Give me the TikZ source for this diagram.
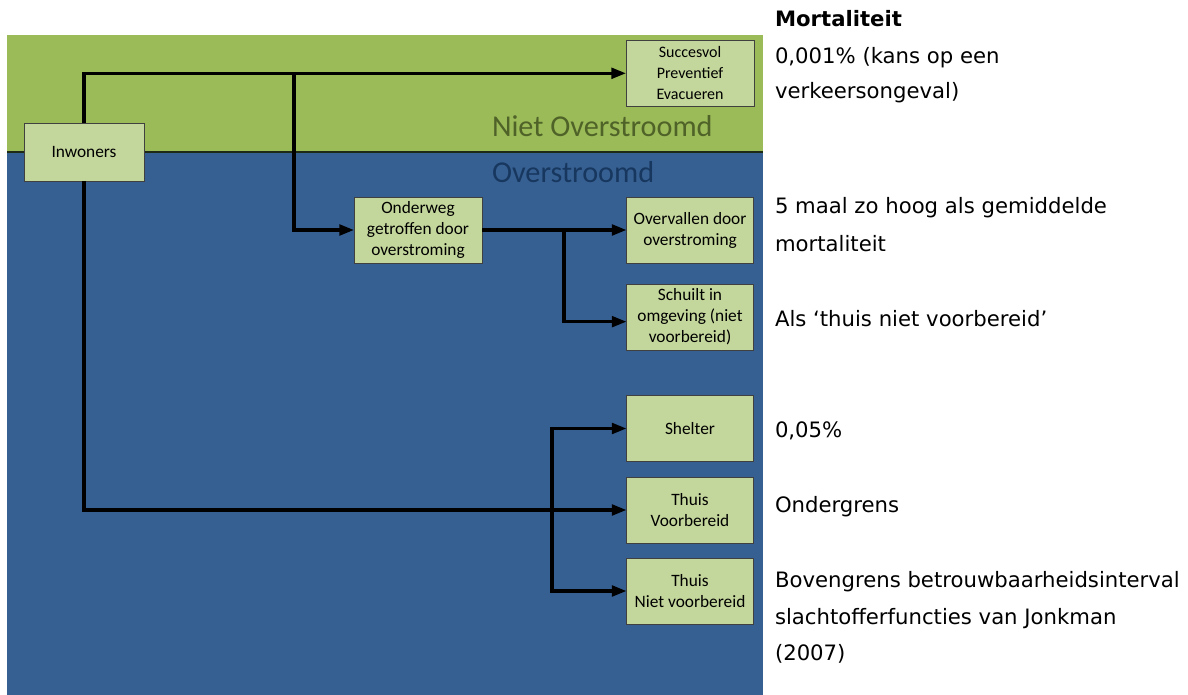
\documentclass[tikz,border=0pt]{standalone}
\usepackage{fontspec}
\setmainfont{DejaVu Sans}
\newfontfamily\boxfont{Carlito}
\usetikzlibrary{arrows.meta,calc}
\definecolor{bandgreen}{HTML}{9BBB59}
\definecolor{bandblue}{HTML}{376092}
\definecolor{boxfill}{HTML}{C3D69B}
\definecolor{olivtxt}{HTML}{4F6228}
\definecolor{navytxt}{HTML}{17375E}
\definecolor{sepline}{HTML}{1E2A14}
\begin{document}
\begin{tikzpicture}[x=0.75pt,y=-0.75pt,
 boxst/.style={draw=black!75, line width=0.6pt, fill=boxfill, inner sep=0pt, outer sep=0pt,
   minimum width=95.25pt, minimum height=49.5pt, align=center,
   font=\boxfont\fontsize{13}{15.75}\selectfont},
 arr/.style={line width=2.4pt, -{Triangle[length=11pt,width=8pt]}},
 rt/.style={anchor=base west, inner sep=0pt, outer sep=0pt, font=\fontsize{15.9}{20}\selectfont},
 bandtxt/.style={anchor=base west, inner sep=0pt, outer sep=0pt, font=\boxfont\fontsize{22.7}{26}\selectfont},
]
\useasboundingbox[fill=white] (0,0) rectangle (1188,695);
% bands
\fill[bandgreen] (7,35) rectangle (763,152);
\fill[bandblue] (7,152) rectangle (763,695);
\draw[sepline, line width=1.4pt] (7,152) -- (763,152);
\node[bandtxt, text=olivtxt] (nietov) at (492,137) {Niet Overstroomd};
\node[bandtxt, text=navytxt] (ov) at (492,183) {Overstroomd};

% boxes
\node[boxst, minimum width=90pt, minimum height=43.5pt] (inw) at (84,152) {Inwoners};
\node[boxst, minimum width=96pt, minimum height=50pt, font=\boxfont\fontsize{12}{15.75}\selectfont] (suc) at (690,73.3) {Succesvol\\Preventief\\Evacueren};
\node[boxst, minimum width=96pt] (ond) at (418,230) {Onderweg\\getroffen door\\overstroming};
\node[boxst] (ovd) at (690,230) {Overvallen door\\overstroming};
\node[boxst] (sch) at (690,317) {Schuilt in\\omgeving (niet\\voorbereid)};
\node[boxst] (sh) at (690,428.5) {Shelter};
\node[boxst] (tv) at (690,510) {Thuis\\Voorbereid};
\node[boxst] (tnv) at (690,591) {Thuis\\Niet voorbereid};

% connectors
\coordinate (b1) at (294,73.3);
\coordinate (j) at (552,510);
\coordinate (k) at (564,230);
\draw[arr] (inw.north) |- (suc.west);
\draw[arr] (b1) |- (ond.west);
\draw[arr] (inw.south) |- (tv.west);
\draw[arr] (j) |- (sh.west);
\draw[arr] (j) |- (tnv.west);
\draw[arr] (ond.east) -- (ovd.west);
\draw[arr] (k) |- ([yshift=-3.5pt]sch.west);

% right-hand text
\node[rt, font=\bfseries\fontsize{15.9}{20}\selectfont] (m0) at (775,26.5) {Mortaliteit};
\node[rt] (m1) at (775,64) {0,001\% (kans op een};
\node[rt] (m2) at (775,99) {verkeersongeval)};
\node[rt] (m3) at (775,214) {5 maal zo hoog als gemiddelde};
\node[rt] (m4) at (775,252) {mortaliteit};
\node[rt] (m5) at (775,326) {Als ‘thuis niet voorbereid’};
\node[rt] (m6) at (775,437) {0,05\%};
\node[rt] (m7) at (775,512) {Ondergrens};
\node[rt] (m8) at (775,587) {Bovengrens betrouwbaarheidsinterval};
\node[rt] (m9) at (775,624) {slachtofferfuncties van Jonkman};
\node[rt] (m10) at (775,660) {(2007)};
\end{tikzpicture}
\end{document}
